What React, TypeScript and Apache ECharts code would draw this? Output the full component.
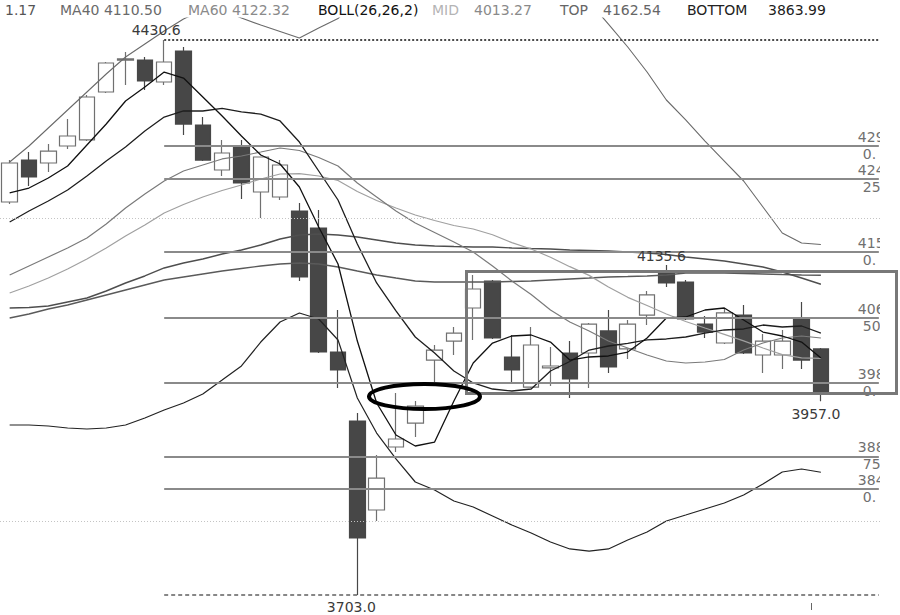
import React, { useEffect, useRef } from 'react';
import * as echarts from 'echarts';

// ---------- data ----------
const CATEGORIES = Array.from({ length: 46 }, (_, i) => String(i));

// [open, close, low, high]
const CANDLES = [
  [4218.3, 4269.4, 4215.7, 4273.3],
  [4273.3, 4251.1, 4239.3, 4283.8],
  [4269.4, 4285.1, 4257.6, 4294.3],
  [4291.7, 4304.8, 4287.8, 4327.1],
  [4299.6, 4355.9, 4298.2, 4358.6],
  [4362.5, 4400.5, 4361.2, 4401.8],
  [4404.4, 4405.8, 4371.7, 4414.9],
  [4404.4, 4376.9, 4365.1, 4408.4],
  [4375.6, 4401.8, 4371.7, 4430.6],
  [4416.2, 4320.5, 4306.1, 4421.5],
  [4319.2, 4273.3, 4272.0, 4329.7],
  [4260.2, 4282.5, 4252.4, 4299.6],
  [4291.7, 4243.2, 4222.2, 4299.6],
  [4231.4, 4277.3, 4197.3, 4277.3],
  [4224.8, 4266.8, 4220.9, 4273.3],
  [4206.5, 4120.0, 4114.7, 4217.0],
  [4184.2, 4021.6, 4020.3, 4207.8],
  [4021.6, 3998.0, 3974.4, 4076.7],
  [3931.2, 3777.8, 3703.0, 3941.7],
  [3814.5, 3856.4, 3800.1, 3886.6],
  [3897.1, 3907.6, 3890.5, 3967.9],
  [3928.5, 3950.8, 3910.2, 3957.4],
  [4011.1, 4024.2, 3982.3, 4030.8],
  [4036.0, 4046.5, 4017.7, 4054.4],
  [4079.3, 4104.2, 4037.4, 4122.6],
  [4114.7, 4040.0, 4038.7, 4116.0],
  [4015.1, 3998.0, 3981.0, 4043.9],
  [3975.7, 4030.8, 3974.4, 4054.4],
  [4000.7, 4003.3, 3977.1, 4028.2],
  [4020.3, 3986.2, 3961.3, 4036.0],
  [4020.3, 4058.3, 3974.4, 4059.6],
  [4049.2, 4002.0, 3994.1, 4076.7],
  [4025.6, 4058.3, 4012.5, 4063.6],
  [4070.1, 4096.4, 4057.0, 4101.6],
  [4126.5, 4112.1, 4106.8, 4135.6],
  [4113.4, 4064.9, 4063.6, 4116.0],
  [4058.3, 4047.8, 4040.0, 4068.8],
  [4033.4, 4072.8, 4032.1, 4079.3],
  [4070.1, 4020.3, 4019.0, 4083.2],
  [4017.7, 4036.0, 3994.1, 4045.2],
  [4017.7, 4036.0, 3999.3, 4050.5],
  [4064.9, 4011.1, 3999.3, 4087.2],
  [4025.6, 3967.9, 3957.0, 4026.9],
];

const MA5 = [4230.1, 4236.6, 4249.7, 4265.5, 4293.0, 4320.5, 4350.7, 4369.0, 4388.7, 4380.8, 4355.9, 4331.0, 4304.8, 4279.9, 4268.1, 4237.9, 4185.5, 4137.0, 4036.0, 3954.8, 3912.8, 3898.4, 3903.6, 3957.4, 4007.2, 4033.4, 4042.6, 4043.9, 4034.7, 4011.1, 4015.1, 4016.4, 4021.6, 4040.0, 4066.2, 4067.5, 4076.7, 4079.3, 4063.6, 4047.8, 4042.6, 4034.7, 4013.8];
const MA10 = [4192.1, 4206.5, 4219.6, 4234.0, 4252.4, 4272.0, 4290.4, 4311.4, 4329.7, 4337.6, 4337.6, 4340.9, 4336.3, 4333.6, 4324.5, 4296.9, 4258.9, 4220.9, 4163.2, 4112.1, 4075.4, 4041.3, 4020.3, 3996.7, 3981.0, 3973.1, 3970.5, 3973.1, 3996.7, 4009.2, 4024.2, 4029.5, 4032.8, 4037.4, 4038.7, 4041.3, 4046.5, 4050.5, 4051.8, 4057.0, 4054.4, 4055.7, 4046.5];
const MA20 = [4122.6, 4134.4, 4146.2, 4158.0, 4171.1, 4189.4, 4210.4, 4228.8, 4245.8, 4258.9, 4266.8, 4274.7, 4278.6, 4283.8, 4289.1, 4285.8, 4276.6, 4265.5, 4243.2, 4224.8, 4206.5, 4190.7, 4178.3, 4165.8, 4152.7, 4134.4, 4114.7, 4097.0, 4076.7, 4061.0, 4049.2, 4036.0, 4026.9, 4017.7, 4009.8, 4007.2, 4008.5, 4011.8, 4024.2, 4033.4, 4040.0, 4042.6, 4040.0];
const MA40 = [4079.3, 4080.0, 4081.9, 4087.2, 4092.4, 4101.6, 4112.1, 4121.3, 4131.8, 4138.3, 4143.6, 4150.1, 4155.3, 4161.9, 4169.8, 4175.0, 4176.3, 4175.0, 4172.4, 4168.5, 4164.5, 4161.9, 4160.6, 4159.9, 4159.3, 4159.3, 4158.0, 4157.3, 4156.7, 4155.3, 4154.7, 4154.0, 4152.7, 4151.4, 4149.5, 4146.2, 4143.6, 4140.9, 4137.0, 4133.1, 4126.5, 4118.6, 4110.5];
const MA60 = [4066.2, 4071.4, 4078.0, 4083.2, 4089.8, 4096.4, 4102.9, 4109.5, 4116.0, 4120.0, 4123.9, 4127.8, 4131.1, 4134.4, 4137.0, 4138.3, 4137.0, 4133.1, 4127.8, 4122.6, 4118.6, 4114.7, 4113.4, 4113.4, 4113.4, 4113.4, 4114.1, 4114.7, 4116.0, 4117.3, 4118.6, 4120.0, 4120.6, 4121.3, 4122.6, 4125.2, 4125.2, 4125.2, 4124.5, 4123.9, 4123.2, 4122.6, 4122.32];
const BOLL_MID = [4099.0, 4108.2, 4118.6, 4130.4, 4143.6, 4158.0, 4173.7, 4188.1, 4203.9, 4215.0, 4224.8, 4233.4, 4240.6, 4248.4, 4255.0, 4255.6, 4252.4, 4246.5, 4232.0, 4220.2, 4210.4, 4201.2, 4194.0, 4187.5, 4182.9, 4175.4, 4165.0, 4156.7, 4145.8, 4133.5, 4122.1, 4106.8, 4093.3, 4082.6, 4071.4, 4061.6, 4053.1, 4044.8, 4036.2, 4026.9, 4018.1, 4013.9, 4013.27];
const BOLL_TOP = [4270.7, 4291.7, 4315.3, 4338.9, 4362.5, 4386.1, 4408.4, 4425.4, 4442.5, 4458.2, 4470.0, 4470.0, 4459.5, 4450.3, 4441.8, 4433.3, 4446.4, 4458.8, 4483.1, 4509.3, 4529.0, 4542.1, 4546.0, 4548.7, 4548.7, 4546.0, 4538.2, 4529.0, 4518.5, 4502.8, 4480.5, 4451.6, 4421.5, 4388.7, 4352.0, 4325.8, 4298.2, 4272.0, 4245.8, 4211.7, 4177.6, 4164.5, 4162.54];
const BOLL_BOTTOM = [3925.9, 3925.9, 3924.6, 3922.0, 3920.7, 3922.0, 3925.9, 3935.1, 3945.6, 3954.8, 3966.6, 3984.9, 4003.3, 4034.7, 4061.0, 4072.8, 4064.9, 4037.4, 3961.3, 3915.4, 3881.4, 3851.2, 3840.7, 3826.3, 3818.4, 3806.6, 3794.8, 3784.3, 3772.5, 3763.4, 3760.7, 3763.4, 3775.2, 3785.6, 3800.1, 3807.9, 3815.8, 3823.7, 3834.2, 3848.6, 3864.3, 3868.2, 3863.99];

const HIGH_IDX = 8;
const HIGH = 4430.6;
const LOW_IDX = 18;
const LOW = 3703.0;
const LOCAL_HIGH_IDX = 34;
const LOCAL_HIGH = 4135.6;
const LAST_IDX = 42;
const LAST_LOW = 3957.0;

const FIB_PRICES = [4291.6, 4248.7, 4152.7, 4066.8, 3980.9, 3884.9, 3842.0];
const FIB_PCT_LABELS = ['0.', '25.', '0.', '50.', '0.', '75.', '0.'];
const GRID_LEVELS = [4197.3, 3800.0];
const FIB_END_IDX = 45;

const HEADER_MA_TAIL = '1.17';

// ---------- chart ----------
const FONT = '"DejaVu Sans", Verdana, sans-serif';
const Y_MIN = 3696.5;
const Y_MAX = 4459.5;

function lineSeries(name: string, data: number[], color: string, width: number) {
  return {
    name,
    type: 'line',
    data,
    symbol: 'none',
    silent: true,
    clip: true,
    z: 3,
    lineStyle: { color, width },
  };
}

function buildOption() {
  const last = (a: number[]) => a[a.length - 1].toFixed(2);

  const fibLines = FIB_PRICES.map((p) => [
    { coord: [HIGH_IDX, p], lineStyle: { color: '#8a8a8a', width: 2, type: 'solid' } },
    { coord: [FIB_END_IDX, p] },
  ]);
  const extremeLines = [
    [
      { coord: [HIGH_IDX, HIGH], lineStyle: { color: '#4a4a4a', width: 2, type: [2, 2] } },
      { coord: [FIB_END_IDX, HIGH] },
    ],
    [
      { coord: [HIGH_IDX, LOW], lineStyle: { color: '#606060', width: 1.5, type: [4, 3] } },
      { coord: [FIB_END_IDX, LOW] },
    ],
  ];
  const gridLines = GRID_LEVELS.map((v) => ({
    yAxis: v,
    lineStyle: { color: '#c4c4c4', width: 1, type: [1, 2] },
  }));

  const extremeLabel = (idx: number, val: number, offset: number[]) => ({
    coord: [idx, val],
    label: {
      show: true,
      formatter: val.toFixed(1),
      position: 'inside',
      offset,
      color: '#3a3a3a',
      fontSize: 14,
      fontFamily: FONT,
    },
  });

  const fibLabels: any[] = [];
  FIB_PRICES.forEach((p, i) => {
    fibLabels.push({
      coord: [FIB_END_IDX, p],
      label: {
        show: true,
        formatter: String(p).slice(0, 3),
        position: 'right',
        distance: 0,
        offset: [-21.5, -9],
        color: '#707070',
        fontSize: 14,
        fontFamily: FONT,
      },
    });
    fibLabels.push({
      coord: [FIB_END_IDX, p],
      label: {
        show: true,
        formatter: FIB_PCT_LABELS[i],
        position: 'right',
        distance: 0,
        offset: [-16.5, 8],
        color: '#707070',
        fontSize: 14,
        fontFamily: FONT,
      },
    });
  });

  const header = [
    { text: HEADER_MA_TAIL, x: 5, color: '#555555' },
    { text: 'MA40 ' + last(MA40), x: 60, color: '#6a6a6a' },
    { text: 'MA60 ' + last(MA60), x: 188, color: '#8a8a8a' },
    { text: 'BOLL(26,26,2)', x: 318, color: '#111111' },
    { text: 'MID', x: 432, color: '#b4b4b4' },
    { text: last(BOLL_MID), x: 474, color: '#8a8a8a' },
    { text: 'TOP', x: 560, color: '#666666' },
    { text: last(BOLL_TOP), x: 603, color: '#666666' },
    { text: 'BOTTOM', x: 687, color: '#222222' },
    { text: last(BOLL_BOTTOM), x: 768, color: '#222222' },
  ];

  const graphic: any[] = header.map((h) => ({
    type: 'text',
    x: h.x,
    y: 10,
    z: 100,
    silent: true,
    style: {
      text: h.text,
      fill: h.color,
      font: `14px ${FONT}`,
      textVerticalAlign: 'middle',
      verticalAlign: 'middle',
    },
  }));

  graphic.push(
    {
      type: 'rect',
      z: 90,
      silent: true,
      shape: { x: 880, y: 120, width: 12.5, height: 415 },
      style: { fill: '#ffffff', stroke: null },
    },
    {
      type: 'rect',
      z: 100,
      silent: true,
      shape: { x: 466.5, y: 271.5, width: 430, height: 122 },
      style: { fill: 'none', stroke: '#787878', lineWidth: 3 },
    },
    {
      type: 'ellipse',
      z: 100,
      silent: true,
      shape: { cx: 424.5, cy: 396.5, rx: 55.5, ry: 12.5 },
      style: { fill: 'none', stroke: '#000000', lineWidth: 4 },
    },
    {
      type: 'line',
      z: 100,
      silent: true,
      shape: { x1: 811.5, y1: 603, x2: 811.5, y2: 610 },
      style: { stroke: '#666666', lineWidth: 1 },
    }
  );

  return {
    animation: false,
    backgroundColor: '#ffffff',
    grid: { left: -6.2, right: 11.5, top: 18, bottom: 15 },
    xAxis: {
      type: 'category',
      data: CATEGORIES,
      boundaryGap: true,
      show: false,
    },
    yAxis: {
      type: 'value',
      min: Y_MIN,
      max: Y_MAX,
      show: false,
      splitLine: { show: false },
    },
    series: [
      {
        name: 'K',
        type: 'candlestick',
        data: CANDLES,
        barWidth: 16,
        silent: true,
        z: 2,
        itemStyle: {
          color: '#ffffff',
          color0: '#474747',
          borderColor: '#707070',
          borderColor0: '#474747',
          borderWidth: 1.2,
        },
        markLine: {
          silent: true,
          symbol: ['none', 'none'],
          label: { show: false },
          animation: false,
          data: [...gridLines, ...fibLines, ...extremeLines],
        },
        markPoint: {
          silent: true,
          symbol: 'circle',
          symbolSize: 1,
          itemStyle: { color: 'rgba(0,0,0,0)' },
          animation: false,
          data: [
            extremeLabel(HIGH_IDX, HIGH, [-8, -10]),
            extremeLabel(LOCAL_HIGH_IDX, LOCAL_HIGH, [-5, -9]),
            extremeLabel(LOW_IDX, LOW, [-6, 12]),
            extremeLabel(LAST_IDX, LAST_LOW, [-5, 13]),
            ...fibLabels,
          ],
        },
      },
      lineSeries('MA60', MA60, '#5a5a5a', 1.4),
      lineSeries('MA40', MA40, '#4e4e4e', 1.4),
      lineSeries('MID', BOLL_MID, '#a0a0a0', 1.2),
      lineSeries('MA20', MA20, '#7a7a7a', 1.2),
      lineSeries('TOP', BOLL_TOP, '#6a6a6a', 1.1),
      lineSeries('BOTTOM', BOLL_BOTTOM, '#222222', 1.2),
      lineSeries('MA10', MA10, '#1e1e1e', 1.3),
      lineSeries('MA5', MA5, '#111111', 1.3),
    ],
    graphic,
  };
}

export default function App() {
  const ref = useRef<HTMLDivElement>(null);
  useEffect(() => {
    if (!ref.current) return;
    const chart = echarts.init(ref.current, undefined, { renderer: 'svg' });
    chart.setOption(buildOption() as any);
    return () => chart.dispose();
  }, []);
  return (
    <div
      ref={ref}
      style={{ position: 'fixed', left: 0, top: 0, width: 900, height: 615, background: '#ffffff' }}
    />
  );
}
